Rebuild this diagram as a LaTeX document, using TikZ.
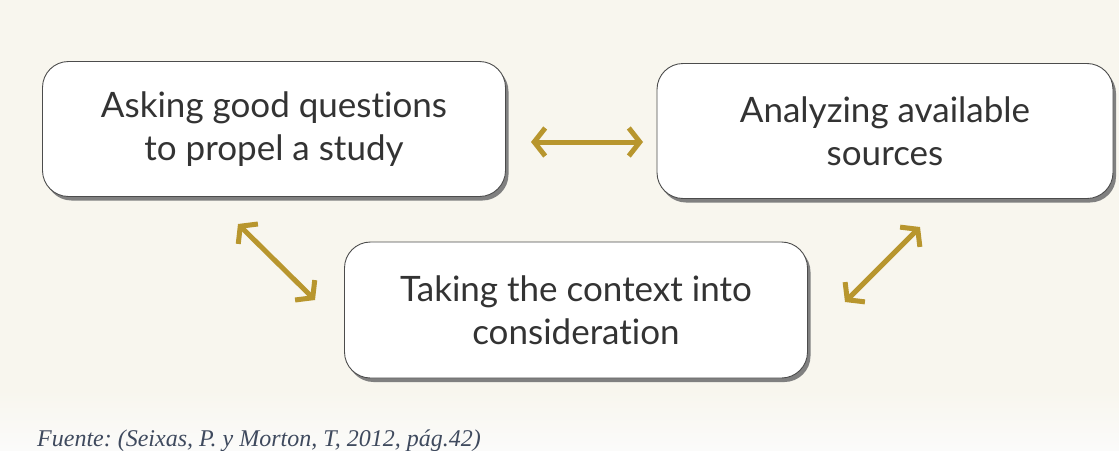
\documentclass[tikz,border=0pt]{standalone}
\usepackage{fontspec}
\setmainfont{Lato}[Ligatures=NoCommon]
\newfontfamily\capfont{Liberation Serif}
\usetikzlibrary{arrows.meta,shadows}
\frenchspacing
\definecolor{bgcream}{HTML}{F8F6EE}
\definecolor{bgwhite}{HTML}{FBFBFA}
\definecolor{gold}{HTML}{B8962E}
\definecolor{txtgray}{HTML}{333333}
\definecolor{capblue}{HTML}{3F4A5E}
\tikzset{
  topic/.style={draw=black!70, line width=0.9pt, fill=white, rounded corners=26pt,
    align=center, text=txtgray, font=\fontsize{35}{43}\selectfont,
    drop shadow={shadow xshift=3pt, shadow yshift=-4pt, fill=black!50, opacity=1}},
  link/.style={draw=gold, line width=5pt,
    {Straight Barb[length=11pt,width=28pt,line width=5pt]}-{Straight Barb[length=11pt,width=28pt,line width=5pt]}}
}
\begin{document}
\begin{tikzpicture}[x=1pt,y=-1pt]
\fill[bgcream] (0,0) rectangle (1119,450);
\shade[top color=bgcream, bottom color=bgwhite] (0,390) rectangle (1119,450);
\useasboundingbox (0,0) rectangle (1119,450);
\node[topic, minimum width=463pt, minimum height=135pt] (ask) at (274,129) {Asking good questions\\to propel a study};
\node[topic, minimum width=456pt, minimum height=135pt] (ana) at (885,131) {Analyzing available\\sources};
\node[topic, minimum width=463pt, minimum height=136pt] (ctx) at (576,310) {Taking the context into\\consideration};
\coordinate (h1) at (531,142);
\coordinate (h2) at (643,142);
\coordinate (l1) at (238,224);
\coordinate (l2) at (315,300);
\coordinate (r1) at (920,227);
\coordinate (r2) at (845,302);
\draw[link] (h1) -- (h2);
\draw[link] (l1) -- (l2);
\draw[link] (r1) -- (r2);
\node[anchor=base west, inner sep=0pt, text=capblue, font=\capfont\itshape\fontsize{24}{28}\selectfont] (cap) at (37,446) {Fuente: (Seixas, P. y Morton, T, 2012, pág.42)};
\end{tikzpicture}
\end{document}
